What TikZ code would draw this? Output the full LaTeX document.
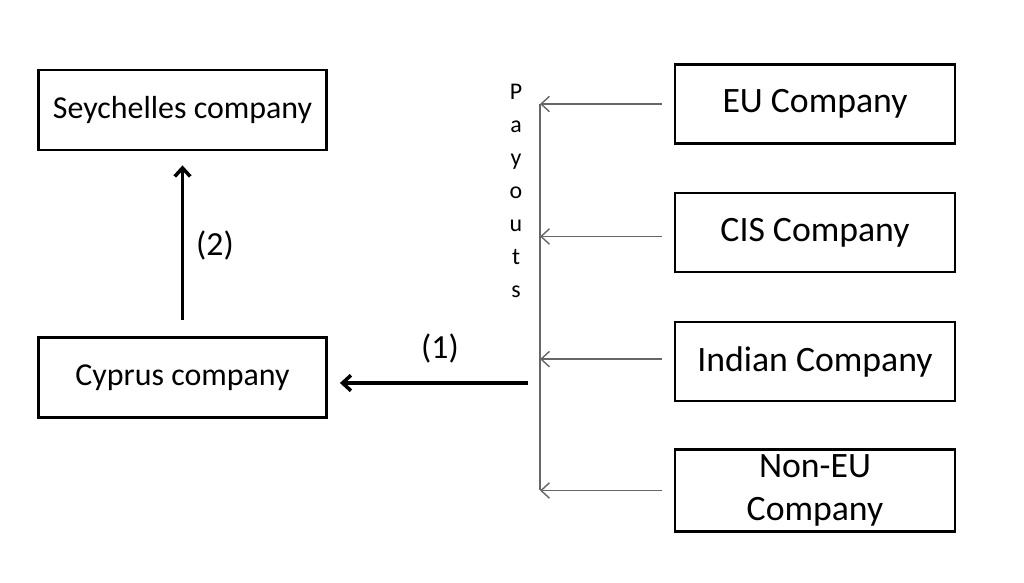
\documentclass[tikz,border=0pt]{standalone}
\usepackage{fontspec}
\setmainfont{Carlito}
\usetikzlibrary{positioning}
\usetikzlibrary{arrows.meta}
\tikzset{>={Straight Barb[length=6pt,width=11pt]}}
\tikzset{
  leftbox/.style={draw, line width=2pt, minimum width=7.2cm, minimum height=2cm, font=\fontsize{22.7}{27}\selectfont},
  rightbox/.style={draw, line width=2pt, minimum width=7cm, minimum height=1.97cm, align=center, font=\fontsize{25.4}{31}\selectfont},
  payline/.style={gray!80!black, line width=1pt},
  mainline/.style={line width=2.5pt}
}

\begin{document}
\begin{tikzpicture}[x=0.025cm, y=-0.025cm]
\useasboundingbox (0, 0) rectangle (1024, 583);
\node[leftbox] (sey) at (182.5, 110) {Seychelles company};
\node[leftbox] (cyp) at (182.5, 377.5) {Cyprus company};
\node[rightbox] (eu) at (815, 104) {EU Company};
\node[rightbox] (cis) at (815, 232.5) {CIS Company};
\node[rightbox] (ind) at (815, 361.5) {Indian Company};
\node[rightbox] (noneu) at (815, 490.5) {Non-EU\\Company};
\coordinate (bustop) at (540, 104);
\coordinate (busbot) at (540, 490);
\coordinate (hub) at (528, 383);
\node[font=\fontsize{17}{23.4}\selectfont, align=center] (pay) at (516, 191) {P\\a\\y\\o\\u\\t\\s};
\draw[payline] (bustop) -- (busbot);
\draw[payline, ->] ([xshift=-0.3cm]eu.west) -- (eu.west -| bustop);
\draw[payline, ->] ([xshift=-0.3cm, yshift=-0.1cm]cis.west) -- ([yshift=-0.1cm]cis.west -| bustop);
\draw[payline, ->] ([xshift=-0.3cm, yshift=0.06cm]ind.west) -- ([yshift=0.06cm]ind.west -| bustop);
\draw[payline, ->] ([xshift=-0.3cm]noneu.west) -- (noneu.west -| bustop);
\draw[mainline, ->, shorten >=0.3cm] (hub) -- (hub -| cyp.east);
\node[font=\fontsize{24}{28}\selectfont] (one) at (440, 348) {(1)};
\draw[mainline, ->, shorten <=0.4cm, shorten >=0.35cm] (cyp.north) -- (sey.south);
\node[font=\fontsize{24}{28}\selectfont] (two) at (215, 245) {(2)};
\end{tikzpicture}
\end{document}
